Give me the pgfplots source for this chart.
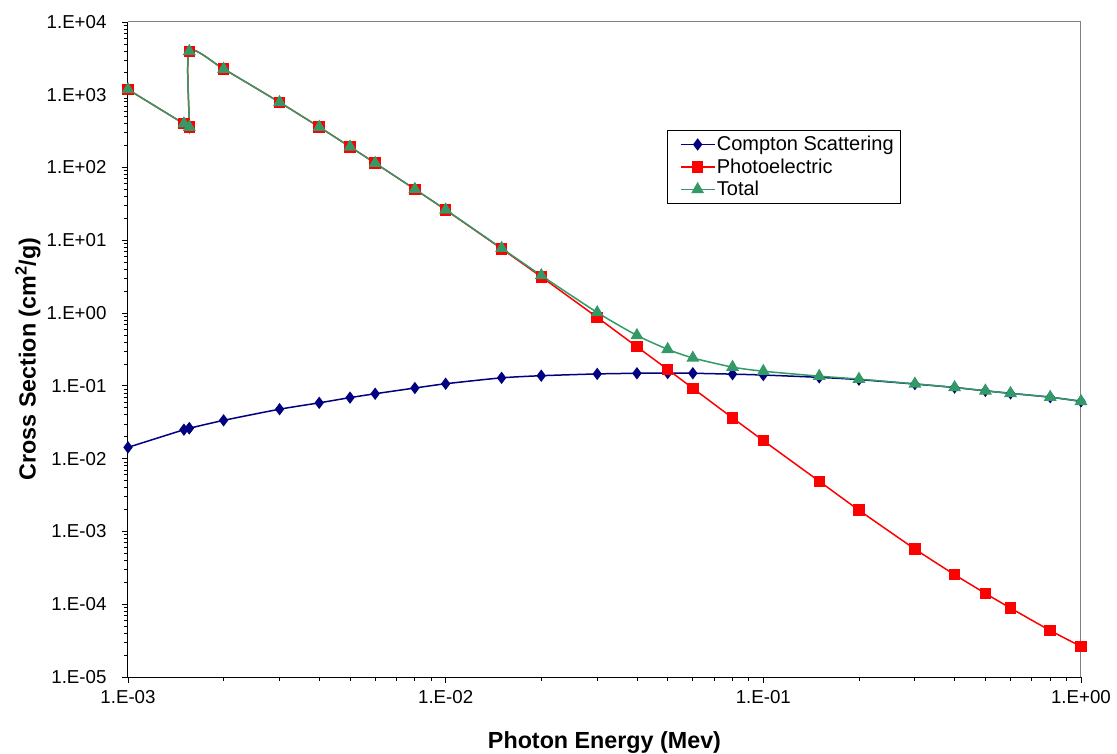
\documentclass[border=0pt]{standalone}
\usepackage{pgfplots}
\pgfplotsset{compat=1.18}
\usepackage{fontspec}
\setmainfont{Liberation Sans}
\definecolor{cnavy}{RGB}{0,0,128}
\definecolor{cred}{RGB}{255,0,0}
\definecolor{cgreen}{RGB}{51,153,102}
\begin{document}
\begin{tikzpicture}
\begin{axis}[
  scale only axis,
  width=953pt, height=655pt,
  xmode=log, ymode=log,
  xmin=1e-3, xmax=1, ymin=1e-5, ymax=1e4,
  axis lines=left,
  axis line style={-, black, line width=1pt},
  tick align=outside,
  major tick length=6pt, minor tick length=4pt,
  tick style={black, line width=0.8pt},
  xtick={1e-3,1e-2,1e-1,1},
  minor xtick={2e-3,3e-3,4e-3,5e-3,6e-3,7e-3,8e-3,9e-3,
    2e-2,3e-2,4e-2,5e-2,6e-2,7e-2,8e-2,9e-2,
    2e-1,3e-1,4e-1,5e-1,6e-1,7e-1,8e-1,9e-1},
  xticklabels={1.E-03,1.E-02,1.E-01,1.E+00},
  ytick={1e-5,1e-4,1e-3,1e-2,1e-1,1,1e1,1e2,1e3,1e4},
  minor ytick={2e-5,3e-5,4e-5,5e-5,6e-5,7e-5,8e-5,9e-5,
    2e-4,3e-4,4e-4,5e-4,6e-4,7e-4,8e-4,9e-4,
    2e-3,3e-3,4e-3,5e-3,6e-3,7e-3,8e-3,9e-3,
    2e-2,3e-2,4e-2,5e-2,6e-2,7e-2,8e-2,9e-2,
    2e-1,3e-1,4e-1,5e-1,6e-1,7e-1,8e-1,9e-1,
    2,3,4,5,6,7,8,9,
    20,30,40,50,60,70,80,90,
    200,300,400,500,600,700,800,900,
    2000,3000,4000,5000,6000,7000,8000,9000},
  yticklabels={1.E-05,1.E-04,1.E-03,1.E-02,1.E-01,1.E+00,1.E+01,1.E+02,1.E+03,1.E+04},
  ticklabel style={font=\fontsize{18.7}{22}\selectfont},
  xticklabel style={yshift=-4pt},
  yticklabel style={xshift=-12pt},
  xlabel={\textbf{Photon Energy (Mev)}},
  ylabel={\textbf{Cross Section (cm\textsuperscript{2}/g)}},
  label style={font=\fontsize{23.3}{26}\selectfont},
  xlabel style={at={(axis description cs:0.5,0)}, anchor=base, yshift=-71pt},
  ylabel style={at={(axis description cs:-0.105,0.4855)}, anchor=center},
  legend style={at={(0.5656,0.835)}, anchor=north west, draw=black, line width=0.8pt,
    font=\fontsize{20}{22}\selectfont, inner xsep=5pt, inner ysep=4pt, row sep=2.5pt,
    /tikz/every odd column/.append style={column sep=0pt}},
  legend cell align=left,
  legend image code/.code={\path (0pt,0pt); \draw[mark repeat=2,mark phase=2,#1] plot coordinates {(8pt,0pt) (24.5pt,0pt) (41pt,0pt)};},
  clip=false,
]
\draw[gray, line width=1pt] (rel axis cs:0,1) -- (rel axis cs:1,1) -- (rel axis cs:1,0);
\addplot[cnavy, line width=1.5pt, smooth, tension=0.4, mark=diamond*, mark size=5pt, mark options={solid, fill=cnavy, draw=cnavy}] coordinates {
(1e-3,0.0143) (1.5e-3,0.0250) (1.5596e-3,0.0262) (1.5596e-3,0.0262) (2e-3,0.0336)
(3e-3,0.0478) (4e-3,0.0585) (5e-3,0.0690) (6e-3,0.0780) (8e-3,0.0935)
(1e-2,0.1070) (1.5e-2,0.1290) (2e-2,0.1380) (3e-2,0.1460) (4e-2,0.1490)
(5e-2,0.1500) (6e-2,0.1490) (8e-2,0.1450) (1e-1,0.1410) (1.5e-1,0.1310)
(2e-1,0.1220) (3e-1,0.1060) (4e-1,0.0950) (5e-1,0.0855) (6e-1,0.0790)
(8e-1,0.0700) (1,0.0614)
};
\addlegendentry{Compton Scattering}
\addplot[cred, line width=1.5pt, smooth, tension=0.4, mark=square*, mark size=5pt, mark options={solid, fill=cred, draw=cred}] coordinates {
(1e-3,1183) (1.5e-3,400) (1.5596e-3,360) (1.5596e-3,3960) (2e-3,2260)
(3e-3,788) (4e-3,360) (5e-3,193) (6e-3,115) (8e-3,50.3)
(1e-2,26.2) (1.5e-2,7.66) (2e-2,3.15) (3e-2,0.873) (4e-2,0.345)
(5e-2,0.168) (6e-2,0.0927) (8e-2,0.0363) (1e-1,0.0177) (1.5e-1,0.00489)
(2e-1,0.00196) (3e-1,0.000574) (4e-1,0.000255) (5e-1,0.000141) (6e-1,0.0000885)
(8e-1,0.0000435) (1,0.0000263)
};
\addlegendentry{Photoelectric}
\addplot[cgreen, line width=1.5pt, smooth, tension=0.4, mark=triangle*, mark size=6pt, mark options={solid, fill=cgreen, draw=cgreen}] coordinates {
(1e-3,1183) (1.5e-3,400) (1.5596e-3,360) (1.5596e-3,3960) (2e-3,2260)
(3e-3,788) (4e-3,360) (5e-3,193) (6e-3,115) (8e-3,50.4)
(1e-2,26.3) (1.5e-2,7.79) (2e-2,3.29) (3e-2,1.02) (4e-2,0.494)
(5e-2,0.318) (6e-2,0.242) (8e-2,0.181) (1e-1,0.159) (1.5e-1,0.136)
(2e-1,0.124) (3e-1,0.1066) (4e-1,0.0953) (5e-1,0.0856) (6e-1,0.0791)
(8e-1,0.0700) (1,0.0614)
};
\addlegendentry{Total}
\end{axis}
\pgfresetboundingbox
\path ([shift={(-128pt,-77pt)}]current axis.south west) rectangle ([shift={(36pt,22pt)}]current axis.north east);
\end{tikzpicture}
\end{document}
